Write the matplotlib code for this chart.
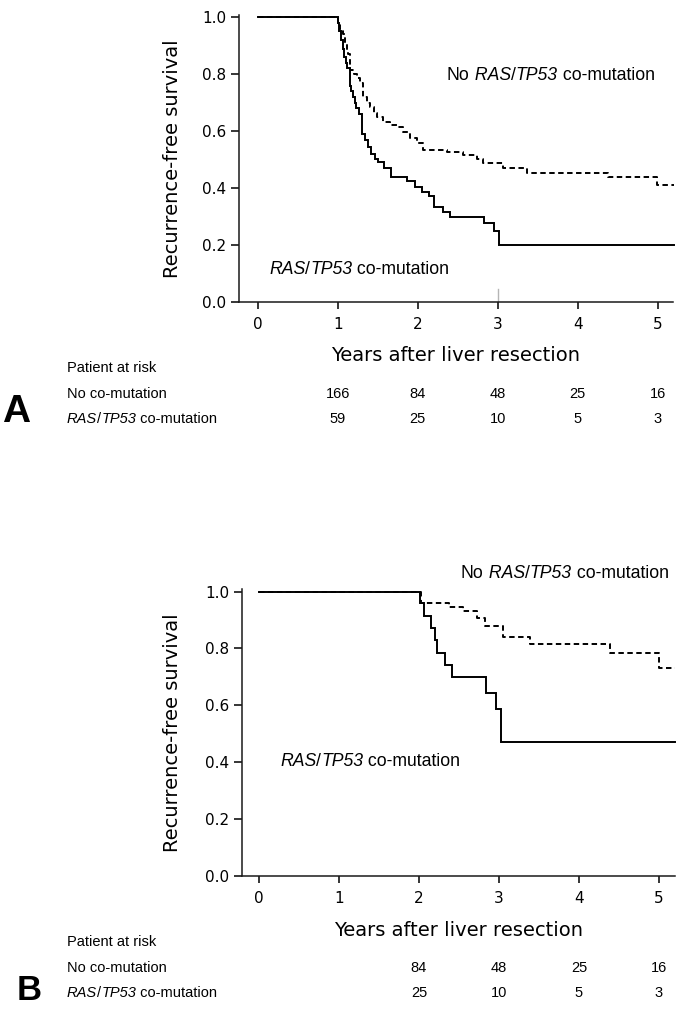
import matplotlib.pyplot as plt
from matplotlib import transforms

# --- data ---------------------------------------------------------------
# Panel A
a_comut_t = [0, 1.0, 1.02, 1.04, 1.06, 1.08, 1.10, 1.12, 1.15, 1.17, 1.19, 1.21, 1.23,
             1.26, 1.30, 1.34, 1.38, 1.42, 1.46, 1.50, 1.58, 1.66, 1.86, 1.97, 2.05,
             2.14, 2.20, 2.32, 2.40, 2.83, 2.95, 3.02, 5.2]
a_comut_s = [1.0, 0.98, 0.95, 0.92, 0.89, 0.86, 0.84, 0.82, 0.76, 0.74, 0.72, 0.70, 0.68,
             0.66, 0.59, 0.57, 0.545, 0.52, 0.50, 0.49, 0.47, 0.44, 0.425, 0.405, 0.387,
             0.37, 0.334, 0.317, 0.297, 0.276, 0.249, 0.2, 0.2]
a_nocomut_t = [0, 1.0, 1.03, 1.06, 1.09, 1.11, 1.13, 1.155, 1.20, 1.24, 1.28, 1.32, 1.36,
               1.40, 1.45, 1.49, 1.57, 1.65, 1.74, 1.82, 1.90, 1.99, 2.07, 2.36, 2.57,
               2.74, 2.82, 3.07, 3.36, 4.38, 4.99, 5.2]
a_nocomut_s = [1.0, 0.98, 0.96, 0.94, 0.91, 0.885, 0.87, 0.815, 0.80, 0.785, 0.77, 0.72, 0.70,
               0.686, 0.665, 0.65, 0.633, 0.62, 0.615, 0.598, 0.574, 0.557, 0.533, 0.528, 0.516,
               0.50, 0.487, 0.469, 0.454, 0.44, 0.41, 0.41]
a_censor = [3.0]
a_risk_years = [1, 2, 3, 4, 5]
a_risk_nocomut = [166, 84, 48, 25, 16]
a_risk_comut = [59, 25, 10, 5, 3]

# Panel B
b_comut_t = [0, 2.01, 2.06, 2.15, 2.20, 2.23, 2.33, 2.41, 2.84, 2.96, 3.02, 5.2]
b_comut_s = [1.0, 0.959, 0.914, 0.873, 0.83, 0.785, 0.742, 0.699, 0.645, 0.586, 0.47, 0.47]
b_nocomut_t = [0, 2.02, 2.37, 2.55, 2.72, 2.83, 3.05, 3.39, 4.39, 5.0, 5.2]
b_nocomut_s = [1.0, 0.961, 0.947, 0.93, 0.906, 0.879, 0.84, 0.816, 0.783, 0.73, 0.73]
b_risk_years = [2, 3, 4, 5]
b_risk_nocomut = [84, 48, 25, 16]
b_risk_comut = [25, 10, 5, 3]

x_ticks = [0, 1, 2, 3, 4, 5]
y_ticks = [0.0, 0.2, 0.4, 0.6, 0.8, 1.0]

# --- layout helpers (pixel based) ----------------------------------------
W, H = 687, 1014
SANS = 'Liberation Sans'
fig = plt.figure(figsize=(W / 100, H / 100), dpi=100)


def fx(px):
    return px / W


def fy(py):
    return 1 - py / H


def rich_text(ax, x, y, parts, size):
    # pieces of text with mixed italic, chained left to right
    s, st = parts[0]
    t = fig.text(fx(x), fy(y), s, fontstyle=st, fontsize=size, family=SANS,
                 ha='left', va='center')
    for s, st in parts[1:]:
        t = ax.annotate(s, xy=(1, 0.5), xycoords=t, ha='left', va='center',
                        fontstyle=st, fontsize=size, family=SANS)
    return t


def km_panel(box, xlim, curves, censor, risk_years, risk_rows, letter, ann):
    left, top, right, bottom = box
    ax = fig.add_axes([fx(left), fy(bottom), fx(right) - fx(left), fy(top) - fy(bottom)])
    for t, s, ls in curves:
        ax.step(t, s, where='post', color='black', lw=1.4, linestyle=ls,
                clip_on=False, solid_joinstyle='miter')
    for c in censor:
        ax.axvline(c, ymin=0, ymax=0.045, color='#b5b5b5', lw=1)
    ax.set_xlim(*xlim)
    ax.set_ylim(0, 1.008)
    ax.set_xticks(x_ticks)
    ax.set_yticks(y_ticks)
    ax.spines['right'].set_visible(False)
    ax.spines['top'].set_visible(False)
    for sp in ('left', 'bottom'):
        ax.spines[sp].set_linewidth(1.1)
        ax.spines[sp].set_color('#1a1a1a')
    ax.tick_params(axis='x', direction='out', length=5, width=1.1, pad=6, labelsize=11)
    ax.tick_params(axis='y', direction='out', length=5.5, width=1.1, pad=3.5, labelsize=11)
    h = bottom - top
    ax.set_ylabel('Recurrence-free survival', fontsize=14, va='center')
    ax.yaxis.set_label_coords((172 - left) / (right - left), 0.5)
    ax.set_xlabel('Years after liver resection', fontsize=14, va='center')
    ax.xaxis.set_label_coords(0.5, -54.0 / h)

    # annotations on the curves
    for (x, y) in ann[0:1]:
        rich_text(ax, x, y, [('No', 'normal'), (' RAS', 'italic'), ('/', 'normal'),
                             ('TP53', 'italic'), (' co-mutation', 'normal')], 12.7)
    for (x, y) in ann[1:2]:
        rich_text(ax, x, y, [('RAS', 'italic'), ('/', 'normal'),
                             ('TP53', 'italic'), (' co-mutation', 'normal')], 12.7)

    # patients at risk table
    y_head, y1, y2 = bottom + 66, bottom + 92, bottom + 117
    fig.text(fx(67), fy(y_head), 'Patient at risk', fontsize=10.5, family=SANS, va='center')
    fig.text(fx(67), fy(y1), 'No co-mutation', fontsize=10.5, family=SANS, va='center')
    rich_text(ax, 67, y2, [('RAS', 'italic'), ('/', 'normal'), ('TP53', 'italic'),
                           (' co-mutation', 'normal')], 10.5)
    trans = transforms.blended_transform_factory(ax.transData, fig.transFigure)
    for yr, n1, n2 in zip(risk_years, risk_rows[0], risk_rows[1]):
        ax.text(yr, fy(y1), str(n1), transform=trans, ha='center', va='center',
                fontsize=10.5, family=SANS, clip_on=False)
        ax.text(yr, fy(y2), str(n2), transform=trans, ha='center', va='center',
                fontsize=10.5, family=SANS, clip_on=False)

    lx, ly, lsize = letter[1]
    fig.text(fx(lx), fy(ly), letter[0], fontsize=lsize, fontweight='bold',
             family=SANS, ha='left', va='center')
    return ax


km_panel((239, 15, 673, 301.7), (-0.234, 5.19),
         [(a_nocomut_t, a_nocomut_s, (0, (2.8, 1.8))), (a_comut_t, a_comut_s, '-')],
         a_censor, a_risk_years, (a_risk_nocomut, a_risk_comut),
         ('A', (2, 412, 28)), [(447, 75), (269, 270)])

km_panel((241.7, 589.3, 675, 876), (-0.216, 5.2),
         [(b_nocomut_t, b_nocomut_s, (0, (2.8, 1.8))), (b_comut_t, b_comut_s, '-')],
         [], b_risk_years, (b_risk_nocomut, b_risk_comut),
         ('B', (17, 991, 25)), [(461, 573), (280, 762)])

plt.savefig('out.png', dpi=100)
